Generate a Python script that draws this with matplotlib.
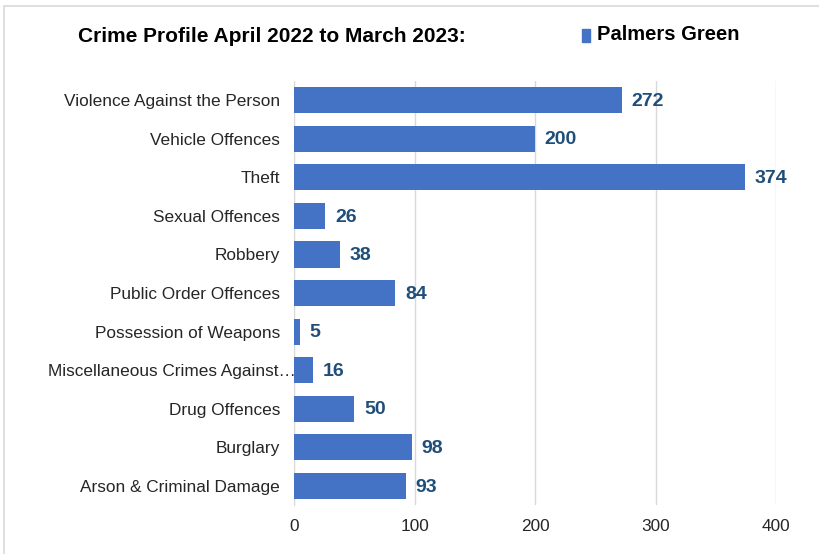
import matplotlib
matplotlib.use('Agg')
import matplotlib.pyplot as plt
from matplotlib.patches import Rectangle
from matplotlib.transforms import ScaledTranslation

plt.rcParams['font.family'] = ['Liberation Sans', 'DejaVu Sans']

categories = ['Violence Against the Person', 'Vehicle Offences', 'Theft', 'Sexual Offences',
              'Robbery', 'Public Order Offences', 'Possession of Weapons',
              'Miscellaneous Crimes Against\u2026', 'Drug Offences', 'Burglary',
              'Arson & Criminal Damage']
values = [272, 200, 374, 26, 38, 84, 5, 16, 50, 98, 93]
series_name = 'Palmers Green'
title = 'Crime Profile April 2022 to March 2023:'
xticks = [0, 100, 200, 300, 400]

bar_col = '#4472C4'
lab_col = '#1F4E79'

fig = plt.figure(figsize=(8.19, 5.54), dpi=100)
ax = fig.add_axes([0.359, 0.088, 0.5885, 0.766])

ypos = list(range(len(categories)))
ax.barh(ypos, values, height=0.68, color=bar_col, zorder=3)
ax.set_ylim(len(categories) - 0.5, -0.5)
ax.set_xlim(0, 400)
ax.set_yticks(ypos)
ax.set_yticklabels(categories, fontsize=12.4, color='#262626')
ax.set_xticks(xticks)
ax.set_xticklabels([str(t) for t in xticks], fontsize=12.4, color='#262626')
ax.tick_params(axis='both', length=0)
ax.tick_params(axis='y', pad=10)
ax.tick_params(axis='x', pad=10)
ax.grid(axis='x', color='#D9D9D9', linewidth=1, zorder=0)
for s in ['top', 'right', 'bottom']:
    ax.spines[s].set_visible(False)
ax.spines['left'].set_color('#D9D9D9')

# truncated label sits a bit further right, over the axis line
for lbl in ax.get_yticklabels():
    if lbl.get_text().endswith('\u2026'):
        lbl.set_transform(lbl.get_transform() + ScaledTranslation(0.16, 0, fig.dpi_scale_trans))

for y, v in zip(ypos, values):
    ax.text(v + 8, y + 0.03, str(v), va='center', ha='left', fontsize=14,
            fontweight='bold', color=lab_col)

fig.text(0.095, 0.935, title, fontsize=15, fontweight='bold', va='center', ha='left')
fig.patches.append(Rectangle((0.7105, 0.924), 0.0098, 0.024, transform=fig.transFigure,
                             color=bar_col, figure=fig))
fig.text(0.729, 0.937, series_name, fontsize=14.5, fontweight='bold', va='center', ha='left')

fig.patches.append(Rectangle((0.005, -0.05), 1.1, 1.04, transform=fig.transFigure,
                             fill=False, edgecolor='#D9D9D9', linewidth=1.2, figure=fig))

fig.savefig('out.png', dpi=100)
